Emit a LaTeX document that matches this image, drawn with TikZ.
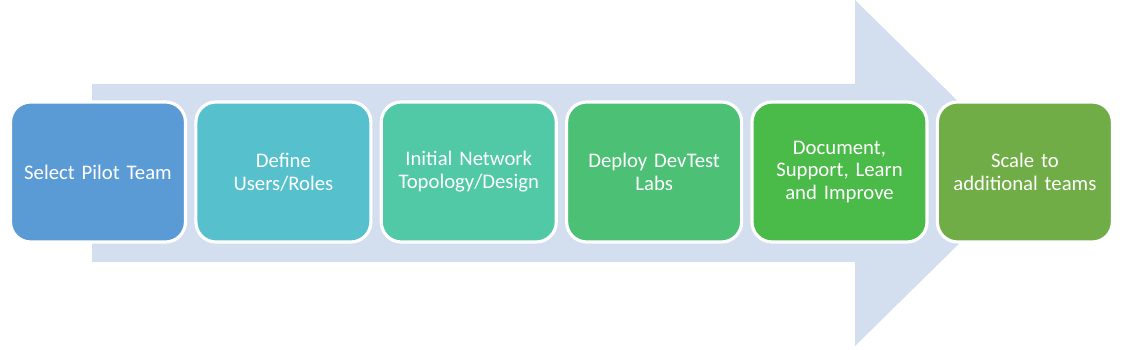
\documentclass[tikz,border=0pt]{standalone}
\usepackage{fontspec}
\setmainfont{Carlito}
\usepackage{tikz}
\usetikzlibrary{positioning}

\definecolor{arrowbg}{HTML}{D3DEEF}
\definecolor{stepA}{HTML}{5B9BD5}
\definecolor{stepB}{HTML}{56C1CC}
\definecolor{stepC}{HTML}{51C8A6}
\definecolor{stepD}{HTML}{4CC176}
\definecolor{stepE}{HTML}{4ABA48}
\definecolor{stepF}{HTML}{70AD47}

\tikzset{
  stage/.style={draw=white, line width=1.8pt, rounded corners=0.4cm,
    minimum width=3.5cm, minimum height=2.8cm, text width=3.1cm,
    align=center, text=white, font=\fontsize{11.8}{13}\selectfont}
}

\begin{document}
\begin{tikzpicture}[x=0.02cm, y=-0.02cm]
	\useasboundingbox (0,0) rectangle (1123,350);
	% big background arrow
	\fill[arrowbg] (92,84) -- (855,84) -- (855,0) -- (1031,173) -- (855,346) -- (855,262) -- (92,262) -- cycle;
	% the six stages
	\node[stage, fill=stepA] (pilot) at (98,172) {Select Pilot Team};
	\node[stage, fill=stepB, right=0.145cm of pilot] (roles) {Define\\Users/Roles};
	\node[stage, fill=stepC, right=0.145cm of roles] (network) {Initial Network\\Topology/Design};
	\node[stage, fill=stepD, right=0.145cm of network] (deploy) {Deploy DevTest\\Labs};
	\node[stage, fill=stepE, right=0.145cm of deploy] (improve) {Document,\\Support, Learn\\and Improve};
	\node[stage, fill=stepF, right=0.145cm of improve] (scale) {Scale to\\additional teams};
\end{tikzpicture}
\end{document}
